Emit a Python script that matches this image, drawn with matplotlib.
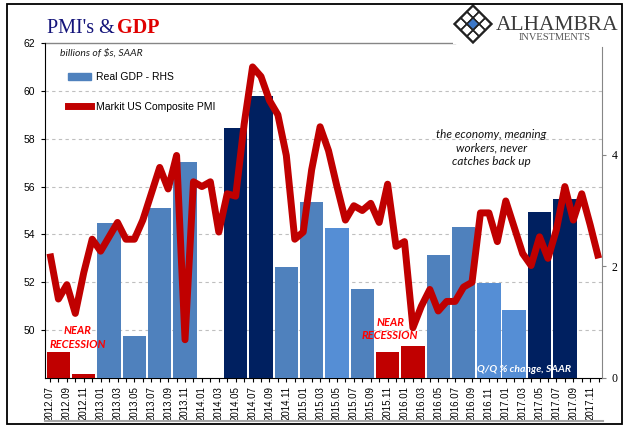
import numpy as np
import pandas as pd
import matplotlib
matplotlib.use("Agg")
import matplotlib.pyplot as plt
from matplotlib.patches import Patch, Polygon, Rectangle
from matplotlib.lines import Line2D

# Markit US Composite PMI, monthly 2012.07 - 2017.12 (left axis)
pmi = [53.2, 51.3, 51.9, 50.7, 52.4, 53.8, 53.3, 53.9, 54.5, 53.8, 53.8, 54.6,
       55.7, 56.8, 55.9, 57.3, 49.6, 56.2, 56.0, 56.2, 54.1, 55.7, 55.6, 58.6,
       61.0, 60.6, 59.6, 59.0, 57.3, 53.8, 54.1, 56.7, 58.5, 57.5, 56.0, 54.6,
       55.2, 55.0, 55.3, 54.5, 56.1, 53.5, 53.7, 50.1, 51.0, 51.7, 50.8, 51.2,
       51.2, 51.8, 52.0, 54.9, 54.9, 53.7, 55.4, 54.3, 53.2, 52.7, 53.9, 53.0,
       54.2, 56.0, 54.6, 55.7, 54.4, 53.0]

# Real GDP Q/Q % change SAAR, quarterly 2012Q3 - 2017Q4 (right axis)
quarters = ["2012Q3", "2012Q4", "2013Q1", "2013Q2", "2013Q3", "2013Q4",
            "2014Q1", "2014Q2", "2014Q3", "2014Q4", "2015Q1", "2015Q2",
            "2015Q3", "2015Q4", "2016Q1", "2016Q2", "2016Q3", "2016Q4",
            "2017Q1", "2017Q2", "2017Q3", "2017Q4"]
gdp = [0.46, 0.07, 2.77, 0.75, 3.05, 3.86,
       -1.2, 4.47, 5.05, 1.98, 3.16, 2.68,
       1.59, 0.46, 0.57, 2.2, 2.71, 1.71,
       1.21, 2.98, 3.21, np.nan]

RED = "#C00000"
MID = "#4F81BD"
LIGHT = "#558ED5"
NAVY = "#002060"
bar_colors = [RED, RED, MID, MID, MID, MID,
              MID, NAVY, NAVY, MID, MID, LIGHT,
              MID, RED, RED, MID, MID, LIGHT,
              LIGHT, NAVY, NAVY, MID]

months = pd.period_range("2012-07", "2017-12", freq="M")
month_labels = [m.strftime("%Y.%m") for m in months]

W, H = 641, 441
fig = plt.figure(figsize=(W / 100, H / 100), dpi=100)


def fx(px):
    return px / W


def fy(py):
    return 1 - py / H


ax = fig.add_axes([fx(45), fy(378), fx(602) - fx(45), fy(43) - fy(378)])
axr = ax.twinx()
axl = ax.twinx()

x = np.arange(len(pmi))
xq = np.arange(len(gdp)) * 3 + 1

# bars (right axis)
axr.bar(xq, gdp, width=2.78, color=bar_colors, linewidth=0)
axr.set_ylim(0, 6)
axr.set_yticks([0, 2, 4])
axr.set_yticklabels(["0", "2", "4"], family="Liberation Serif", fontsize=8.5)
axr.tick_params(axis="y", direction="out", length=3, width=0.8, color="#868686", pad=4)
for s in ["top", "left", "bottom"]:
    axr.spines[s].set_visible(False)
axr.spines["right"].set_color("#868686")
axr.spines["right"].set_bounds(0, 5.92)

# line (left axis scale)
axl.plot(x, pmi, color=RED, lw=5, solid_joinstyle="round", solid_capstyle="butt")
axl.set_ylim(48, 62)
axl.axis("off")

# host axes: grid, left ticks, x ticks
ax.set_ylim(48, 62)
ax.set_xlim(-0.59, 65.4)
ax.set_yticks(range(50, 63, 2))
ax.set_yticklabels([str(v) for v in range(50, 63, 2)], family="Liberation Sans", fontsize=7.5)
ax.yaxis.grid(True, color="#BFBFBF", ls=(0, (3, 3)), lw=0.8)
ax.get_ygridlines()[-1].set_visible(False)
ax.set_axisbelow(True)
ax.tick_params(axis="y", direction="out", length=3, width=0.8, pad=4)
ax.set_xticks(x[::2])
ax.set_xticklabels(month_labels[::2], rotation=90, family="Liberation Sans", fontsize=7)
ax.set_xticks(x[1::2], minor=True)
ax.tick_params(axis="x", which="both", direction="out", length=3, width=0.8, pad=3)
for s in ["top", "right"]:
    ax.spines[s].set_visible(False)
ax.plot([0, 0.736], [1, 1], transform=ax.transAxes, color="#868686", lw=1, clip_on=False)

# legend
handles = [Patch(color=MID, label="Real GDP - RHS"),
           Line2D([], [], color=RED, lw=5, label="Markit US Composite PMI")]
axl.legend(handles=handles, loc="upper left", bbox_to_anchor=(0.042, 0.914),
           frameon=False, borderpad=0, borderaxespad=0, handlelength=2.2,
           handletextpad=0.45, labelspacing=1.95,
           prop={"family": "Liberation Sans", "size": 7.5})

# annotations
ital = dict(family="Lato", style="italic")
axl.text(0.027, 0.97, "billions of $s, SAAR", transform=axl.transAxes, va="center",
         ha="left", fontsize=7.5, color="#1F1F1F", **ital)
axr.text(3.3, 0.72, "NEAR\nRECESSION", ha="center", va="center", fontsize=8,
         color="#FF0000", weight="bold", linespacing=1.3, **ital)
axr.text(40.3, 0.88, "NEAR\nRECESSION", ha="center", va="center", fontsize=8,
         color="#FF0000", weight="bold", linespacing=1.3, **ital)
axr.text(52.3, 4.12, "the economy, meaning\nworkers, never\ncatches back up",
         ha="center", va="center", fontsize=8.5, color="#111111", linespacing=1.3, **ital)
axl.text(50.6, 48.35, "Q/Q % change, SAAR", ha="left", va="center", fontsize=7.5,
         color="white", weight="bold", **ital)

# title
fig.text(fx(47), fy(33), "PMI's &", family="Liberation Serif", fontsize=14.5,
         color="#14147A", va="baseline")
fig.text(fx(117), fy(33), "GDP", family="Liberation Serif", fontsize=14.5,
         color="#E00000", weight="bold", va="baseline")


# logo: diamond lattice + name
def dia(cx, cy, r):
    return [(fx(cx), fy(cy - r)), (fx(cx + r), fy(cy)),
            (fx(cx), fy(cy + r)), (fx(cx - r), fy(cy))]


cx, cy, r = 473, 24, 18.5
fig.add_artist(Rectangle((fx(453), fy(44)), fx(40) - fx(0), fy(0) - fy(40),
                         fc="white", ec="none", transform=fig.transFigure))
fig.add_artist(Polygon(dia(cx, cy, r), closed=True, fill=False, ec="#222222", lw=1.6,
                       transform=fig.transFigure))
for i in range(3):
    for j in range(3):
        sx = cx + (i - j) * r / 3
        sy = cy + (i + j - 2) * r / 3
        col = "#3C78C8" if (i, j) == (1, 1) else "none"
        fig.add_artist(Polygon(dia(sx, sy, r / 3), closed=True, fc=col, ec="#222222",
                               lw=1.1, transform=fig.transFigure))
fig.text(fx(496), fy(30), "ALHAMBRA", family="Liberation Serif", fontsize=15.5,
         color="#3A3A3A", va="baseline")
fig.text(fx(555), fy(40.5), "INVESTMENTS", family="Liberation Serif", fontsize=7.5,
         color="#555555", va="baseline", ha="center")

# outer frame and plot-area bottom line
fig.add_artist(Rectangle((fx(7), fy(424)), fx(622) - fx(7), fy(4) - fy(424), fill=False,
                         ec="black", lw=1.3, transform=fig.transFigure))
fig.add_artist(Line2D([fx(45), fx(603)], [fy(421), fy(421)], color="#A6A6A6", lw=1.5,
                      transform=fig.transFigure))

fig.savefig("out.png", dpi=100)
